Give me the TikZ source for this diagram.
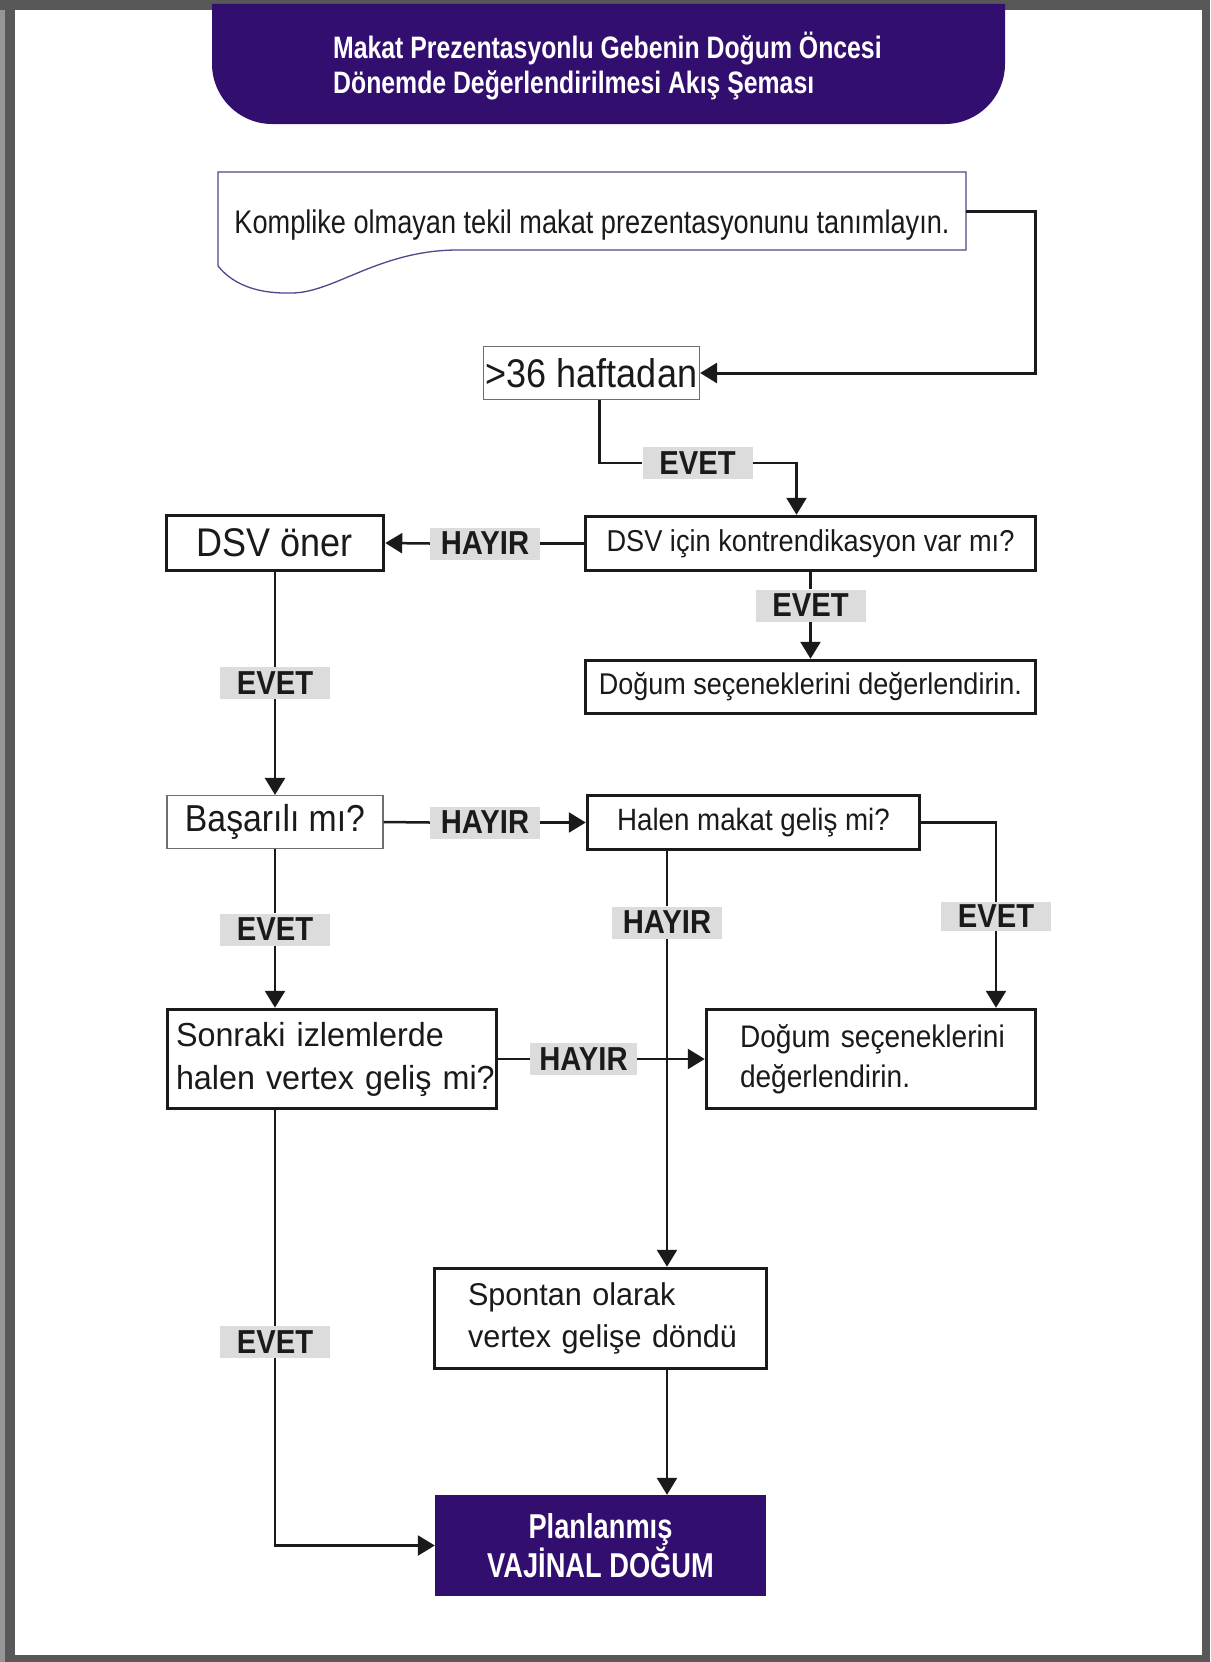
\documentclass[tikz,border=0pt]{standalone}
\usepackage{fontspec}
\setmainfont{Liberation Sans}
\newfontfamily\fRc{Liberation Sans}[FakeStretch=0.83]
\newfontfamily\fR{Liberation Sans}[FakeStretch=0.9]
\newfontfamily\fRw{Liberation Sans}[FakeStretch=0.97]
\newfontfamily\fBt{Liberation Sans}[FakeStretch=0.8]
\newfontfamily\fBl{Liberation Sans}[FakeStretch=0.88]
\newfontfamily\fBc{Liberation Sans}[FakeStretch=0.79]
\usetikzlibrary{arrows.meta}
\definecolor{ink}{RGB}{26,26,26}
\definecolor{plum}{RGB}{50,15,110}
\definecolor{framegray}{RGB}{88,88,88}
\definecolor{framelight}{RGB}{150,150,150}
\definecolor{labgray}{RGB}{220,220,220}
\definecolor{docline}{RGB}{80,70,140}
\definecolor{thingray}{RGB}{110,110,110}
\tikzset{
  conn/.style={draw=ink, line width=2.5pt},
  arr/.style={conn, -{Triangle[length=17pt,width=20pt]}},
  lab/.style={fill=labgray, text=ink, inner sep=0pt, minimum width=110pt, minimum height=32pt,
    font=\fBl\bfseries\fontsize{33.2}{34}\selectfont},
  thickbox/.style={draw=ink, line width=3.5pt, fill=white, text=ink, inner sep=0pt},
  thinbox/.style={draw=thingray, line width=1.2pt, fill=white, text=ink, inner sep=0pt},
  titletext/.style={text=white, inner sep=0pt, font=\fBt\bfseries\fontsize{31}{34}\selectfont},
}
\begin{document}
\begin{tikzpicture}[x=1pt,y=-1pt]
\useasboundingbox (0,0) rectangle (1210,1662);
% frame
\fill[framegray] (0,0) rectangle (1210,1662);
\fill[framelight] (0,10) rectangle (5,1662);
\fill[white] (15,10) rectangle (1202,1655);
% header banner
\fill[plum] (212,4) -- (1005,4) -- (1005,64) .. controls (1005,97) and (978,124) .. (945,124)
  -- (272,124) .. controls (239,124) and (212,97) .. (212,64) -- cycle;
\node[titletext, anchor=base west] (title1) at (333,59) {Makat Prezentasyonlu Gebenin Doğum Öncesi};
\node[titletext, anchor=base west] (title2) at (333,93) {Dönemde Değerlendirilmesi Akış Şeması};

% document shape
\node[inner sep=0pt, minimum width=748pt, minimum height=78pt] (docbox) at (592,211) {};
\draw[docline, line width=1.3pt] (218,172) -- (966,172) -- (966,250) -- (458,250)
  .. controls (380,250) and (335,292) .. (293,293)
  .. controls (262,294) and (235,287) .. (218,266) -- cycle;
\node[inner sep=0pt, anchor=base, text=ink, font=\fRc\fontsize{32.7}{36}\selectfont] (doctext) at (592,233)
  {Komplike olmayan tekil makat prezentasyonunu tanımlayın.};

% boxes
\node[thinbox, minimum width=216pt, minimum height=53pt, font=\fR\fontsize{40}{44}\selectfont] (h36) at (591.5,373) {>36 haftadan};
\node[thickbox, minimum width=450pt, minimum height=54pt, font=\fR\fontsize{30.2}{34}\selectfont] (dsvq) at (810.5,543.5) {DSV için kontrendikasyon var mı?};
\node[thickbox, minimum width=217pt, minimum height=55pt, font=\fR\fontsize{40}{44}\selectfont] (dsvoner) at (275,543) {DSV öner};
\node[thickbox, minimum width=450pt, minimum height=53pt, font=\fR\fontsize{30}{34}\selectfont] (dogum1) at (810.5,687) {Doğum seçeneklerini değerlendirin.};
\node[thinbox, minimum width=216pt, minimum height=53pt, font=\fR\fontsize{37.5}{40}\selectfont] (basarili) at (275,822) {Başarılı mı?};
\node[thickbox, minimum width=332pt, minimum height=54pt, font=\fR\fontsize{30.8}{34}\selectfont] (halen) at (753.5,822.5) {Halen makat geliş mi?};
\node[thickbox, minimum width=329pt, minimum height=99pt, text width=262pt, align=left,
  font=\fR\fontsize{31.2}{40}\selectfont] (dogum2) at (871,1059) {\mbox{Doğum seçeneklerini}\\\mbox{değerlendirin.}};
\node[thickbox, minimum width=329pt, minimum height=99pt, text width=312pt, align=left,
  font=\fRw\fontsize{33.3}{43}\selectfont] (sonraki) at (332,1059) {\mbox{Sonraki izlemlerde}\\\mbox{halen vertex geliş mi?}};
\node[thickbox, minimum width=332pt, minimum height=100pt, text width=265pt, align=left,
  font=\fRw\fontsize{31.5}{42}\selectfont] (spontan) at (600.5,1318.5) {\mbox{Spontan olarak}\\\mbox{vertex gelişe döndü}};
\node[fill=plum, text=white, inner sep=0pt, minimum width=331pt, minimum height=101pt, align=center,
  font=\fBc\bfseries\fontsize{34.5}{36}\selectfont] (final) at (600.5,1545.5) {Planlanmış\\VAJİNAL DOĞUM};

% labels
\node[lab] (evet1) at (697.5,463) {EVET};
\node[lab] (hayir1) at (485,543.5) {HAYIR};
\node[lab] (evet2) at (810.5,605.5) {EVET};
\node[lab] (evet3) at (275,683) {EVET};
\node[lab] (hayir2) at (485,822.5) {HAYIR};
\node[lab] (hayir3) at (667,922.5) {HAYIR};
\node[lab, minimum height=29pt] (evet4) at (996,916.5) {EVET};
\node[lab] (evet5) at (275,929.5) {EVET};
\node[lab, minimum width=107pt] (hayir4) at (583.5,1059) {HAYIR};
\node[lab] (evet6) at (275,1342) {EVET};

% connectors
\draw[arr, line width=3pt] (docbox.east) -- ++(69,0) |- (h36.east);
\draw[conn] ([xshift=8pt]h36.south) |- (evet1.west);
\draw[arr] (evet1.east) -| ([xshift=-14pt]dsvq.north);
\draw[conn] (dsvq.west) -- (hayir1.east);
\draw[arr] (hayir1.west) -- (dsvoner.east);
\draw[conn] (dsvq.south) -- (evet2.north);
\draw[arr] (evet2.south) -- (dogum1.north);
\draw[conn] (dsvoner.south) -- (evet3.north);
\draw[arr] (evet3.south) -- (basarili.north);
\draw[conn] (basarili.east) -- (hayir2.west);
\draw[arr] (hayir2.east) -- (halen.west);
\draw[conn] (hayir3.north |- halen.south) -- (hayir3.north);
\draw[arr] (hayir3.south) -- (hayir3.south |- spontan.north);
\draw[conn] (halen.east) -| (evet4.north);
\draw[arr] (evet4.south) -- (evet4.south |- dogum2.north);
\draw[conn] (basarili.south) -- (evet5.north);
\draw[arr] (evet5.south) -- (evet5.south |- sonraki.north);
\draw[conn] (sonraki.east) -- (hayir4.west);
\draw[arr] (hayir4.east) -- (dogum2.west);
\draw[conn] (evet6.north |- sonraki.south) -- (evet6.north);
\draw[arr] (evet6.south) |- (final.west);
\draw[arr] (hayir3.south |- spontan.south) -- (hayir3.south |- final.north);
\end{tikzpicture}
\end{document}
